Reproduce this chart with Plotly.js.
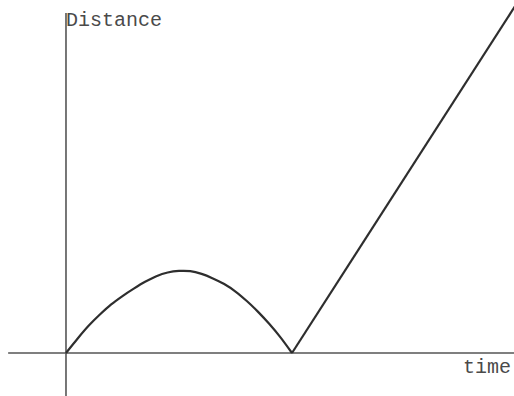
<!DOCTYPE html>
<html>
<head>
<meta charset="utf-8">
<script src="https://cdn.plot.ly/plotly-3.0.1.min.js"></script>
<style>
  html, body { margin: 0; padding: 0; background: #fff; }
  #chart { width: 514px; height: 396px; }
</style>
</head>
<body>
<div id="chart"></div>
<script>
// Distance–time journey: an arch out and back, then a steady run away.
const archTime     = [0, 0.5, 1, 1.5, 2, 2.5, 3, 3.5, 4, 4.5, 5, 5.5, 6, 6.5, 7, 7.5, 8, 8.5, 9, 9.5, 10];
const archDistance = [0, 0.62, 1.2, 1.7, 2.15, 2.52, 2.85, 3.15, 3.4, 3.56, 3.63, 3.62, 3.5, 3.3, 3.05, 2.72, 2.3, 1.82, 1.28, 0.68, 0];
const runTime      = [10, 20];
const runDistance  = [0, 15.55];

const axisLabels = { y: "Distance", x: "time" };

// Visible extents of the drawn axis lines
const xLineStart = -2.56;
const yLineTop = 15.04;

const xRange = [-2.92, 19.823];
const yRange = [-1.903, 15.619];

const ink = "#2e2e2e";
const axisInk = "#555";
const labelFont = { family: "Liberation Mono, Courier New, monospace", size: 20, color: "#4a4a4a" };

const traces = [
  {
    x: archTime, y: archDistance, type: "scatter", mode: "lines",
    line: { color: ink, width: 2.2, shape: "spline", smoothing: 0.6 },
    hoverinfo: "skip"
  },
  {
    x: runTime, y: runDistance, type: "scatter", mode: "lines",
    line: { color: ink, width: 2.2 },
    hoverinfo: "skip"
  }
];

const layout = {
  width: 514, height: 396,
  margin: { l: 0, r: 0, t: 0, b: 0, pad: 0 },
  paper_bgcolor: "#fff", plot_bgcolor: "#fff",
  showlegend: false,
  xaxis: { range: xRange, visible: false, fixedrange: true },
  yaxis: { range: yRange, visible: false, fixedrange: true },
  shapes: [
    { type: "line", xref: "x", yref: "y", x0: xLineStart, x1: xRange[1], y0: 0, y1: 0,
      line: { color: axisInk, width: 1.6 }, layer: "below" },
    { type: "line", xref: "x", yref: "y", x0: 0, x1: 0, y0: yRange[0], y1: yLineTop,
      line: { color: axisInk, width: 1.6 }, layer: "below" }
  ],
  annotations: [
    { text: axisLabels.y, xref: "x", yref: "y", x: 0, y: 14.73, xanchor: "left", yanchor: "middle",
      xshift: -2, showarrow: false, font: labelFont },
    { text: axisLabels.x, xref: "paper", yref: "y", x: 1, y: -0.62, xanchor: "right", yanchor: "middle",
      xshift: -1, showarrow: false, font: labelFont }
  ]
};

Plotly.newPlot("chart", traces, layout, { staticPlot: true, displayModeBar: false });
</script>
</body>
</html>
